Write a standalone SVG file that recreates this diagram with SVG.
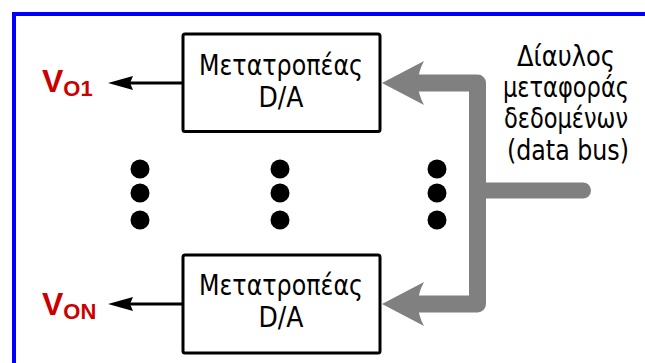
<svg xmlns="http://www.w3.org/2000/svg" width="645" height="363" viewBox="0 0 645 363">
<style>
.box{fill:#fff;stroke:#000;stroke-width:3}
.bt{font-family:"DejaVu Sans",sans-serif;font-size:29px;fill:#000;text-anchor:middle}
.vl{font-family:"Liberation Sans",Arial,sans-serif;font-weight:bold;fill:#cc0000}
.bus{fill:none;stroke:#808080;stroke-width:17;stroke-linejoin:round}
.out{fill:none;stroke:#000;stroke-width:3}
</style>
<defs>
<path id="gh" d="M0,0 L42,-22 Q36,-11 36,0 Q36,11 42,22 Z" fill="#808080"/>
<path id="bh" d="M0,0 L25,-7 L22,0 L25,7 Z" fill="#000"/>
<circle id="dot" r="9.5" fill="#000"/>
</defs>
<rect width="645" height="363" fill="#fff"/>
<g id="frame">
<path d="M645,14 H14 V363" fill="none" stroke="#0000ff" stroke-width="4"/>
</g>
<g id="connectors">
<path class="bus" d="M417,83 H477.5 V304 H417"/>
<path d="M477,190.5 H583" stroke="#808080" stroke-width="16" stroke-linecap="round" fill="none"/>
<use href="#gh" x="382" y="83"/>
<use href="#gh" x="382" y="304"/>
<path class="out" d="M183,83 H128"/>
<use href="#bh" x="108" y="83"/>
<path class="out" d="M183,304 H128"/>
<use href="#bh" x="108" y="304"/>
</g>
<g id="dac1">
<rect class="box" x="183" y="34" width="197" height="97.5" rx="2"/>
<text class="bt" x="281" y="75" textLength="164" lengthAdjust="spacingAndGlyphs">Μετατροπέας</text>
<text class="bt" x="281" y="107" textLength="45" lengthAdjust="spacingAndGlyphs">D/A</text>
</g>
<g id="dacN">
<rect class="box" x="183" y="255" width="197" height="98" rx="2"/>
<text class="bt" x="281" y="295" textLength="164" lengthAdjust="spacingAndGlyphs">Μετατροπέας</text>
<text class="bt" x="281" y="327" textLength="45" lengthAdjust="spacingAndGlyphs">D/A</text>
</g>
<g id="vo1">
<text class="vl" x="42" y="92" font-size="32">V<tspan font-size="22" dy="4">O1</tspan></text>
</g>
<g id="von">
<text class="vl" x="42" y="315" font-size="32">V<tspan font-size="22" dy="4">ON</tspan></text>
</g>
<g id="dots">
<use href="#dot" x="140" y="169"/>
<use href="#dot" x="140" y="193"/>
<use href="#dot" x="140" y="220"/>
<use href="#dot" x="280" y="169"/>
<use href="#dot" x="280" y="193"/>
<use href="#dot" x="280" y="220"/>
<use href="#dot" x="437" y="169"/>
<use href="#dot" x="437" y="193"/>
<use href="#dot" x="437" y="220"/>
</g>
<g id="buslabel">
<text class="bt" x="566" y="66" textLength="98" lengthAdjust="spacingAndGlyphs">Δίαυλος</text>
<text class="bt" x="566" y="97" textLength="126" lengthAdjust="spacingAndGlyphs">μεταφοράς</text>
<text class="bt" x="566" y="128" textLength="124" lengthAdjust="spacingAndGlyphs">δεδομένων</text>
<text class="bt" x="568" y="160" textLength="122" lengthAdjust="spacingAndGlyphs">(data bus)</text>
</g>
</svg>
